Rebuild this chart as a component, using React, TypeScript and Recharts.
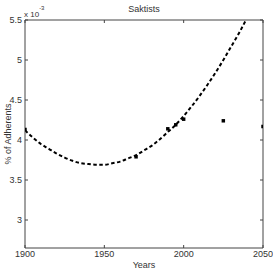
import React from 'react';
import { ComposedChart, Line, Scatter, XAxis, YAxis, ZAxis, Label } from 'recharts';

const fitYears = [1900, 1905, 1910, 1915, 1920, 1925, 1930, 1935, 1940, 1945, 1950, 1955, 1960, 1965, 1970, 1975, 1980, 1985, 1990, 1995, 2000, 2005, 2010, 2015, 2020, 2025, 2030, 2035, 2040];
const fitValues = [4.12, 4.03, 3.95, 3.89, 3.83, 3.78, 3.74, 3.71, 3.70, 3.69, 3.69, 3.71, 3.73, 3.77, 3.81, 3.87, 3.93, 4.01, 4.10, 4.19, 4.30, 4.42, 4.55, 4.69, 4.84, 5.00, 5.17, 5.34, 5.53];
const obsYears = [1900, 1970, 1990, 1995, 2000, 2025, 2050];
const obsValues = [4.13, 3.79, 4.14, 4.19, 4.26, 4.24, 4.17];
const xTicks = [1900, 1950, 2000, 2050];
const yTicks = [3, 3.5, 4, 4.5, 5, 5.5];
const title = 'Saktists';
const xLabel = 'Years';
const yLabel = '% of Adherents';
const multiplierBase = 'x 10';
const multiplierExp = '-3';

const fitData = fitYears.map((year, i) => ({ year, value: fitValues[i] }));
const obsData = obsYears.map((year, i) => ({ year, value: obsValues[i] }));

const FONT = '"Liberation Sans Narrow", "Arial Narrow", "Liberation Sans", Arial, sans-serif';
const AXIS = '#444';
const TEXT = '#333';

export default function App() {
  return (
    <div style={{ position: 'absolute', left: 0, top: 0 }}>
      <ComposedChart width={273} height={273} margin={{ top: 0, right: 0, bottom: 0, left: 0 }}>
        <XAxis
          xAxisId="b"
          dataKey="year"
          type="number"
          domain={[1900, 2050]}
          ticks={xTicks}
          height={25}
          stroke={AXIS}
          tickSize={-3}
          tickMargin={6}
          tick={{ fill: TEXT, fontSize: 9, fontFamily: FONT }}
          allowDataOverflow
        >
          <Label
            content={() => (
              <text x={144} y={268} textAnchor="middle" fontSize={9} fontFamily={FONT} fill={TEXT}>
                {xLabel}
              </text>
            )}
          />
        </XAxis>
        <XAxis
          xAxisId="t"
          orientation="top"
          dataKey="year"
          type="number"
          domain={[1900, 2050]}
          ticks={xTicks}
          height={20}
          stroke={AXIS}
          tickSize={-3}
          tickFormatter={() => ''}
          allowDataOverflow
        >
          <Label
            content={() => (
              <text x={144} y={12} textAnchor="middle" fontSize={9} fontFamily={FONT} fill={TEXT}>
                {title}
              </text>
            )}
          />
        </XAxis>
        <YAxis
          yAxisId="l"
          type="number"
          domain={[2.65, 5.5]}
          ticks={yTicks}
          width={25}
          stroke={AXIS}
          tickSize={-3}
          tickMargin={6}
          tick={{ fill: TEXT, fontSize: 9, fontFamily: FONT }}
          allowDataOverflow
        >
          <Label
            content={() => (
              <g>
                <text x={8} y={134} transform="rotate(-90 8 134)" textAnchor="middle" dominantBaseline="central" fontSize={9} fontFamily={FONT} fill={TEXT}>
                  {yLabel}
                </text>
                <text x={24} y={17} fontSize={8} fontFamily={FONT} fill={TEXT}>
                  {multiplierBase}
                  <tspan dy={-7} fontSize={6}>{multiplierExp}</tspan>
                </text>
              </g>
            )}
          />
        </YAxis>
        <YAxis
          yAxisId="r"
          orientation="right"
          type="number"
          domain={[2.65, 5.5]}
          ticks={yTicks}
          width={10}
          stroke={AXIS}
          tickSize={-3}
          tickFormatter={() => ''}
          allowDataOverflow
        />
        <ZAxis range={[12, 12]} />
        <Line
          xAxisId="b"
          yAxisId="l"
          data={fitData}
          dataKey="value"
          type="monotone"
          stroke="#000"
          strokeWidth={2}
          strokeDasharray="3.5 2.5"
          dot={false}
          activeDot={false}
          isAnimationActive={false}
        />
        <Scatter
          xAxisId="b"
          yAxisId="l"
          data={obsData}
          dataKey="value"
          shape="square"
          fill="#000"
          isAnimationActive={false}
        />
      </ComposedChart>
    </div>
  );
}
